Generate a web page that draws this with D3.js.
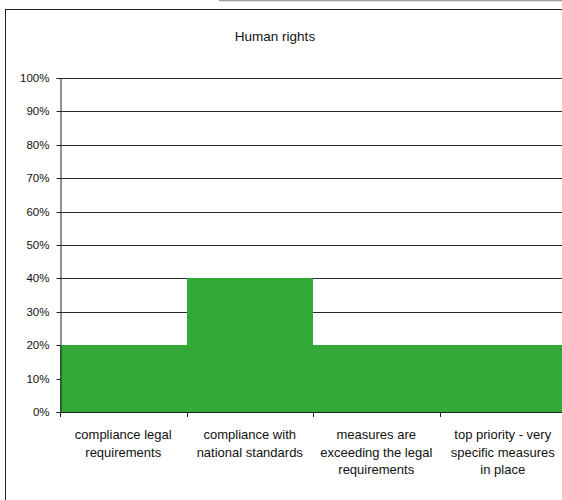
<!DOCTYPE html>
<html>
<head>
<meta charset="utf-8">
<script src="https://cdn.jsdelivr.net/npm/d3@7"></script>
<style>
  html, body { margin: 0; padding: 0; background: #fff; overflow: hidden; }
  svg { display: block; font-family: Arial, "Liberation Sans", sans-serif; }
</style>
</head>
<body>
<svg id="chart" width="562" height="500"></svg>
<script>
// Share of responses per human-rights commitment level
const categories = [
  ["compliance legal", "requirements"],
  ["compliance with", "national standards"],
  ["measures are", "exceeding the legal", "requirements"],
  ["top priority - very", "specific measures", "in place"]
];
const values = [0.20, 0.40, 0.20, 0.20];
const yTicks = [0, 0.1, 0.2, 0.3, 0.4, 0.5, 0.6, 0.7, 0.8, 0.9, 1.0];
const title = "Human rights";

const FONT = "Arial, 'Liberation Sans', sans-serif";
const svg = d3.select("#chart");

// Edge of a neighbouring panel along the top
svg.append("line")
  .attr("x1", 219).attr("x2", 562).attr("y1", 0.5).attr("y2", 0.5)
  .attr("stroke", "#a0a0a0").attr("stroke-width", 1.5);

// Chart frame
svg.append("rect")
  .attr("x", 5.5).attr("y", 9.5).attr("width", 600).attr("height", 520)
  .attr("fill", "#fff").attr("stroke", "#222").attr("stroke-width", 1);

const plot = { left: 60, right: 566, top: 78, bottom: 412 };

const x = d3.scaleBand()
  .domain(d3.range(categories.length))
  .range([plot.left, plot.right])
  .padding(0);

const y = d3.scaleLinear()
  .domain([0, 1])
  .range([plot.bottom, plot.top]);

const bandLeft = i => Math.round(x(i));
const bandRight = i => Math.round(x(i) + x.bandwidth());

// Horizontal gridlines
svg.append("g")
  .selectAll("line")
  .data(yTicks.filter(d => d > 0))
  .join("line")
  .attr("x1", plot.left).attr("x2", plot.right)
  .attr("y1", d => Math.round(y(d)) + 0.5).attr("y2", d => Math.round(y(d)) + 0.5)
  .attr("stroke", "#2a2a2a").attr("stroke-width", 1);

// Bars
svg.append("g")
  .selectAll("rect")
  .data(values)
  .join("rect")
  .attr("x", (d, i) => bandLeft(i))
  .attr("width", (d, i) => bandRight(i) - bandLeft(i))
  .attr("y", d => Math.round(y(d)))
  .attr("height", d => plot.bottom - Math.round(y(d)))
  .attr("fill", "#34a836");

// Y axis
const yAxis = d3.axisLeft(y)
  .tickValues(yTicks)
  .tickFormat(d3.format(".0%"))
  .tickSize(4)
  .tickPadding(7);

const gy = svg.append("g")
  .attr("transform", `translate(${plot.left + 0.5},0)`)
  .call(yAxis);
gy.selectAll(".tick").attr("transform", d => `translate(0,${Math.round(y(d)) + 0.5})`);
gy.select(".domain").attr("stroke", "#222");
gy.selectAll(".tick line").attr("stroke", "#222");
gy.selectAll(".tick text")
  .attr("font-size", 11.5)
  .attr("font-family", FONT)
  .attr("fill", "#111");

// X axis line and category boundary ticks
const gx = svg.append("g");
gx.append("line")
  .attr("x1", plot.left).attr("x2", plot.right)
  .attr("y1", plot.bottom + 0.5).attr("y2", plot.bottom + 0.5)
  .attr("stroke", "#222");
gx.selectAll("line.tick")
  .data(d3.range(categories.length))
  .join("line")
  .attr("class", "tick")
  .attr("x1", i => bandLeft(i) + 0.5).attr("x2", i => bandLeft(i) + 0.5)
  .attr("y1", plot.bottom).attr("y2", plot.bottom + 5)
  .attr("stroke", "#222");

// Category labels (multi-line)
gx.selectAll("text.cat")
  .data(categories)
  .join("text")
  .attr("class", "cat")
  .attr("text-anchor", "middle")
  .attr("font-size", 13)
  .attr("font-family", FONT)
  .attr("fill", "#111")
  .each(function(lines, i) {
    const t = d3.select(this);
    lines.forEach((ln, j) => {
      t.append("tspan")
        .attr("x", x(i) + x.bandwidth() / 2)
        .attr("y", 439 + j * 17.5)
        .text(ln);
    });
  });

// Title
svg.append("text")
  .attr("x", 275).attr("y", 41)
  .attr("text-anchor", "middle")
  .attr("font-size", 13.5)
  .attr("font-family", FONT)
  .attr("fill", "#111")
  .text(title);
</script>
</body>
</html>
